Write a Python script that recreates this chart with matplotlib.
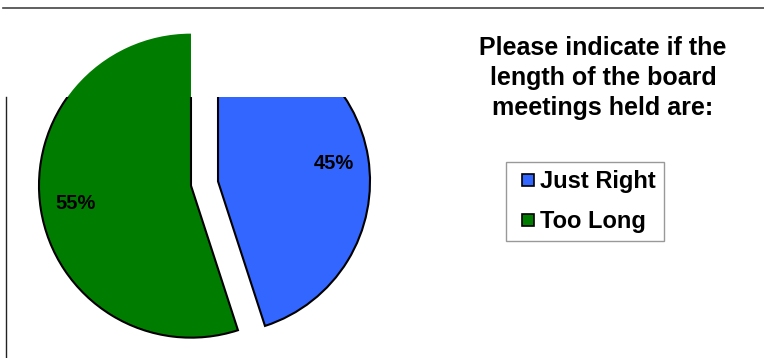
import matplotlib
matplotlib.use('Agg')
import matplotlib.pyplot as plt
import matplotlib.patches as mpatches
import matplotlib.lines as mlines

plt.rcParams['font.family'] = ['Liberation Sans', 'DejaVu Sans']
plt.rcParams['font.weight'] = 'bold'

labels = ['Just Right', 'Too Long']
values = [45, 55]
colors = ['#3366ff', '#007d00']
explode = [0.09, 0.09]
title = 'Please indicate if the\nlength of the board\nmeetings held are:'

W, H = 764, 358
fig = plt.figure(figsize=(W / 100, H / 100), dpi=100)

# pie axes: whole figure, 1 unit = R pixels
R = 152.0
cx, cy = 204.5, H - 183.5
ax = fig.add_axes([0, 0, 1, 1])
wedges, texts, autotexts = ax.pie(
    values, colors=colors, explode=explode, startangle=90, counterclock=False,
    autopct='%1.0f%%', pctdistance=0.77,
    wedgeprops=dict(edgecolor='black', linewidth=1.5),
    textprops=dict(fontsize=14.5, fontweight='bold', color='black'))
ax.set_aspect('auto')
ax.set_xlim(-cx / R, (W - cx) / R)
ax.set_ylim(-cy / R, (H - cy) / R)
ax.axis('off')

# upper part of the plot area is cut off (only the green fill shows there)
clip = mpatches.Rectangle((0, 0), 1, (H - 97) / H, transform=fig.transFigure,
                          facecolor='none', edgecolor='none')
fig.add_artist(clip)
wedges[0].set_clip_on(True)
wedges[0].set_clip_path(clip)
green = wedges[1]
green.set_edgecolor('none')
outline = mpatches.Wedge(green.center, green.r, green.theta1, green.theta2,
                         fill=False, edgecolor='black', linewidth=1.5)
ax.add_patch(outline)
outline.set_clip_path(clip)

# frame lines
fig.add_artist(mlines.Line2D([3 / W, 1], [1 - 7.5 / H, 1 - 7.5 / H],
                             transform=fig.transFigure, color='#444444', lw=1.2))
fig.add_artist(mlines.Line2D([6 / W, 6 / W], [0, 1 - 97 / H],
                             transform=fig.transFigure, color='#222222', lw=1.0))

fig.text(603 / W, 1 - 36 / H, title, ha='center', va='top', fontsize=18,
         fontweight='bold', linespacing=1.32)

handles = [mlines.Line2D([], [], linestyle='none', marker='s', markersize=8.6,
                         markerfacecolor=c, markeredgecolor='black',
                         markeredgewidth=1.2) for c in colors]
leg = fig.legend(handles, labels, loc='upper left',
                 bbox_to_anchor=(506 / W, 1 - 162 / H),
                 prop=dict(weight='bold', size=17), frameon=True, fancybox=False,
                 handlelength=1.2, handletextpad=-0.1,
                 borderpad=0.35, labelspacing=0.7, borderaxespad=0)
leg.get_frame().set_edgecolor('#808080')
leg.get_frame().set_linewidth(1.0)

fig.savefig('out.png', dpi=100)
